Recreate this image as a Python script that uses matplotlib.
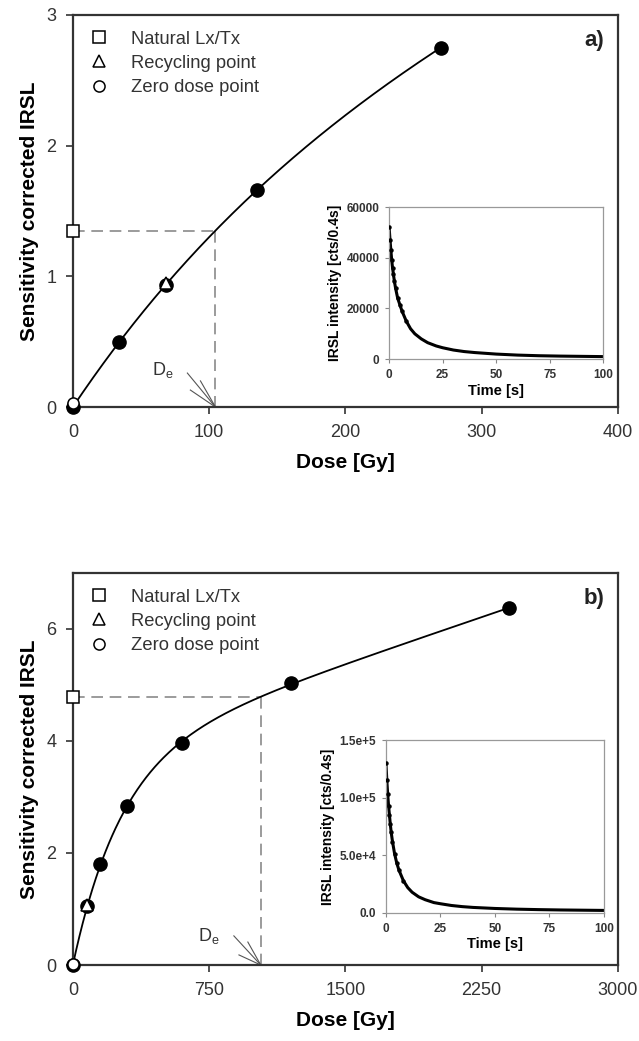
import numpy as np
import matplotlib
matplotlib.use("Agg")
import matplotlib.pyplot as plt

plt.rcParams['font.family'] = ['Liberation Sans', 'DejaVu Sans']

# ---- panel a) dose response ----
dose_a = [0, 34, 68, 135, 270]
lxtx_a = [0.0, 0.50, 0.93, 1.66, 2.75]
natural_a = 1.35
recycle_a = (68, 0.95)
zero_a = (0, 0.03)

# inset a) IRSL decay (cts/0.4s)
time_a = [0, 0.4, 0.8, 1.2, 1.6, 2.0, 2.4, 3, 4, 5, 6, 8, 10, 12, 15, 18, 22, 25,
          30, 35, 40, 50, 60, 70, 80, 90, 100]
irsl_a = [52000, 47000, 43000, 39000, 36000, 33500, 31000, 28000, 24000, 21500,
          19000, 15000, 12000, 10000, 8000, 6500, 5200, 4500, 3600, 3000, 2600,
          2000, 1600, 1350, 1200, 1100, 1000]

# ---- panel b) dose response ----
dose_b = [0, 80, 150, 300, 600, 1200, 2400]
lxtx_b = [0.0, 1.05, 1.80, 2.84, 3.96, 5.04, 6.37]
natural_b = 4.79
recycle_b = (80, 1.07)
zero_b = (0, 0.02)

time_b = [0, 0.4, 0.8, 1.2, 1.6, 2.0, 2.4, 3, 4, 5, 6, 8, 10, 12, 15, 18, 22, 25,
          30, 35, 40, 50, 60, 70, 80, 90, 100]
irsl_b = [130000, 115000, 103000, 93000, 85000, 77000, 70000, 62000, 51000, 43000,
          37000, 28000, 22000, 18000, 14000, 11500, 9000, 8000, 6500, 5500, 4800,
          3900, 3300, 2900, 2600, 2400, 2200]


def fit_curve(x, y):
    # saturating exponential + linear, grid search on D0
    x = np.asarray(x, float)
    y = np.asarray(y, float)
    best = None
    for d in np.linspace(50, 3000, 1500):
        A = np.column_stack([1 - np.exp(-x / d), x])
        coef, *_ = np.linalg.lstsq(A, y, rcond=None)
        err = np.sum((A @ coef - y) ** 2)
        if best is None or err < best[0]:
            best = (err, d, coef)
    _, d, (a, b) = best
    return lambda t: a * (1 - np.exp(-t / d)) + b * t


def dose_panel(ax, dose, lxtx, natural, recycle, zero, xmax, ymax, xticks, yticks,
               tag, de_label_xy, de_arrow):
    f = fit_curve(dose, lxtx)
    xs = np.linspace(0, max(dose), 400)
    ys = f(xs)
    de = np.interp(natural, ys, xs)
    ax.plot(xs, ys, color='black', lw=1.3, zorder=2)
    ax.plot([0, de], [natural, natural], color='#8a8a8a', lw=1.2, dashes=(7, 4), zorder=1)
    ax.plot([de, de], [natural, 0], color='#8a8a8a', lw=1.2, dashes=(7, 4), zorder=1)
    ax.plot(dose, lxtx, 'o', color='black', ms=9.5, clip_on=False, zorder=3)
    ax.plot([0], [natural], 's', mfc='white', mec='black', mew=1.1, ms=8,
            clip_on=False, zorder=4, label='Natural Lx/Tx')
    ax.plot([recycle[0]], [recycle[1]], '^', mfc='white', mec='black', mew=1.1, ms=8,
            clip_on=False, zorder=4, label='Recycling point')
    ax.plot([zero[0]], [zero[1]], 'o', mfc='white', mec='black', mew=1.1, ms=8,
            clip_on=False, zorder=4, label='Zero dose point')
    # De label with fanned arrow lines
    ax.text(de_label_xy[0], de_label_xy[1], r'D$_\mathregular{e}$', fontsize=13,
            color='#333333', ha='center', va='center')
    for dx, dy in de_arrow:
        ax.plot([de + dx, de], [dy, 0], color='#555555', lw=0.8, zorder=2)
    ax.set_xlim(0, xmax)
    ax.set_ylim(0, ymax)
    ax.set_xticks(xticks)
    ax.set_yticks(yticks)
    ax.set_ylabel('Sensitivity corrected IRSL', fontsize=15, fontweight='bold', labelpad=5)
    ax.set_xlabel('Dose [Gy]', fontsize=15, fontweight='bold', labelpad=9)
    ax.tick_params(direction='out', labelsize=13, labelcolor='#333333', length=5,
                   width=1.2, color='#333333', pad=7)
    for s in ax.spines.values():
        s.set_color('#333333')
        s.set_linewidth(1.6)
    ax.text(0.975, 0.935, tag, transform=ax.transAxes, ha='right', va='center',
            fontsize=16, fontweight='bold', color='#222222')
    leg = ax.legend(loc='upper left', bbox_to_anchor=(0.0, 1.0), frameon=False,
                    fontsize=13.2, handletextpad=1.1, labelspacing=0.4,
                    borderaxespad=0.45, handlelength=1.2)
    for t in leg.get_texts():
        t.set_color('#333333')


def inset_panel(ax, t, v, ymax, yticks, ylabels):
    ax.plot(t, v, '-', color='black', lw=2.2, zorder=2)
    ax.plot(t[:12], v[:12], 'o', color='black', ms=2.2, zorder=3)
    ax.set_xlim(0, 100)
    ax.set_ylim(0, ymax)
    ax.set_xticks([0, 25, 50, 75, 100])
    ax.set_yticks(yticks)
    ax.set_yticklabels(ylabels)
    for lab in ax.get_xticklabels() + ax.get_yticklabels():
        lab.set_fontweight('bold')
    ax.tick_params(direction='out', labelsize=8.5, labelcolor='#333333', length=3,
                   width=0.8, color='#888888', pad=4)
    ax.set_xlabel('Time [s]', fontsize=10.5, fontweight='bold', labelpad=2)
    ax.set_ylabel('IRSL intensity [cts/0.4s]', fontsize=10, fontweight='bold', labelpad=3)
    for s in ax.spines.values():
        s.set_color('#999999')
        s.set_linewidth(0.9)


fig = plt.figure(figsize=(6.39, 10.41), dpi=100)

ax1 = fig.add_axes([0.114, 0.609, 0.853, 0.3766])
dose_panel(ax1, dose_a, lxtx_a, natural_a, recycle_a, zero_a, 400, 3,
           [0, 100, 200, 300, 400], [0, 1, 2, 3], 'a)', (66, 0.28),
           [(-20.6, 0.26), (-11, 0.2), (-18.4, 0.13)])
ins1 = fig.add_axes([0.609, 0.655, 0.335, 0.146])
inset_panel(ins1, time_a, irsl_a, 60000, [0, 20000, 40000, 60000],
            ['0', '20000', '40000', '60000'])

ax2 = fig.add_axes([0.114, 0.073, 0.853, 0.3766])
dose_panel(ax2, dose_b, lxtx_b, natural_b, recycle_b, zero_b, 3000, 7,
           [0, 750, 1500, 2250, 3000], [0, 2, 4, 6], 'b)', (750, 0.52),
           [(-148, 0.52), (-71, 0.41), (-120, 0.18)])
ins2 = fig.add_axes([0.604, 0.123, 0.341, 0.166])
inset_panel(ins2, time_b, irsl_b, 150000, [0, 50000, 100000, 150000],
            ['0.0', '5.0e+4', '1.0e+5', '1.5e+5'])

fig.savefig('out.png', dpi=100)
